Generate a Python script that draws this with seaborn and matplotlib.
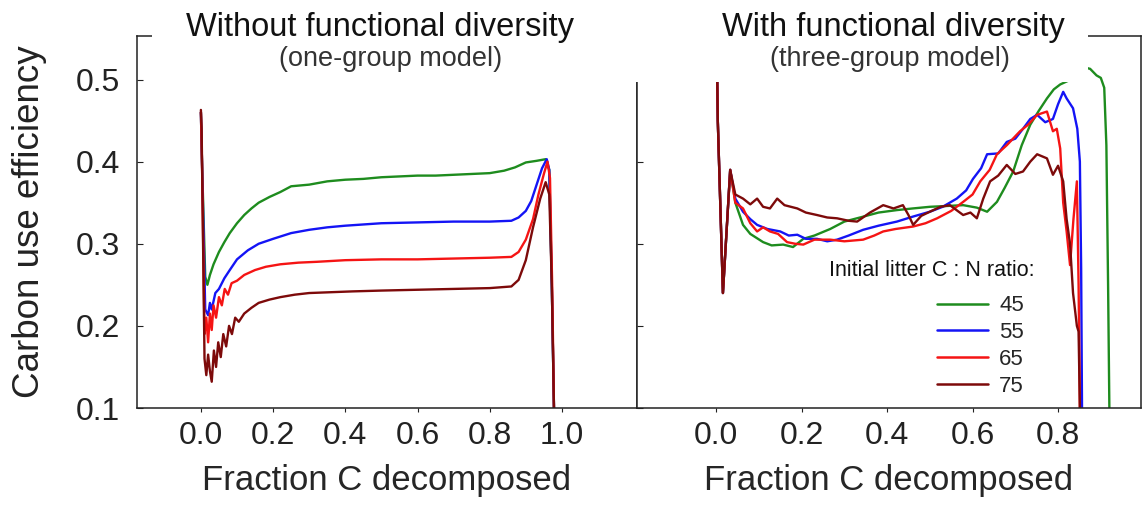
import pandas as pd
import matplotlib
matplotlib.use("Agg")
import matplotlib.pyplot as plt
from matplotlib.patches import Rectangle
import seaborn as sns

# initial litter C:N ratios and line colours
ratios = ["45", "55", "65", "75"]
colors = ["#1e8c1e", "#1414f5", "#f51414", "#7d0a0a"]

# ---- one-group model (left) ----
one_x_45 = [0.0, 0.003, 0.012, 0.018, 0.025, 0.035, 0.05, 0.065, 0.08, 0.1, 0.12, 0.14, 0.16, 0.19,
            0.22, 0.25, 0.3, 0.35, 0.4, 0.45, 0.5, 0.55, 0.6, 0.65, 0.7, 0.75, 0.8, 0.84, 0.87, 0.9,
            0.93, 0.955, 0.965, 0.972, 0.978]
one_y_45 = [0.46, 0.40, 0.26, 0.25, 0.262, 0.275, 0.29, 0.302, 0.313, 0.325, 0.335, 0.343, 0.350, 0.357,
            0.363, 0.370, 0.372, 0.376, 0.378, 0.379, 0.381, 0.382, 0.383, 0.383, 0.384, 0.385, 0.386,
            0.389, 0.393, 0.399, 0.401, 0.403, 0.39, 0.25, 0.1]

one_x_55 = [0.0, 0.003, 0.012, 0.02, 0.025, 0.03, 0.04, 0.05, 0.065, 0.08, 0.1, 0.13, 0.16, 0.2, 0.25,
            0.3, 0.35, 0.4, 0.5, 0.6, 0.7, 0.8, 0.86, 0.88, 0.9, 0.915, 0.93, 0.945, 0.958, 0.965,
            0.972, 0.978]
one_y_55 = [0.46, 0.40, 0.22, 0.213, 0.228, 0.22, 0.24, 0.245, 0.258, 0.268, 0.281, 0.292, 0.300, 0.306,
            0.313, 0.317, 0.320, 0.322, 0.325, 0.326, 0.327, 0.327, 0.328, 0.332, 0.340, 0.352, 0.372,
            0.392, 0.403, 0.39, 0.25, 0.1]

one_x_65 = [0.0, 0.003, 0.01, 0.015, 0.02, 0.025, 0.03, 0.035, 0.042, 0.05, 0.058, 0.066, 0.075, 0.085,
            0.1, 0.12, 0.15, 0.18, 0.22, 0.27, 0.32, 0.4, 0.5, 0.6, 0.7, 0.8, 0.86, 0.88, 0.9, 0.92,
            0.935, 0.95, 0.96, 0.967, 0.973, 0.978]
one_y_65 = [0.46, 0.40, 0.19, 0.21, 0.18, 0.215, 0.195, 0.225, 0.21, 0.235, 0.225, 0.245, 0.238, 0.252,
            0.255, 0.262, 0.268, 0.272, 0.275, 0.277, 0.278, 0.280, 0.281, 0.281, 0.282, 0.283, 0.284,
            0.29, 0.305, 0.33, 0.36, 0.385, 0.40, 0.38, 0.25, 0.1]

one_x_75 = [0.0, 0.002, 0.006, 0.01, 0.015, 0.02, 0.025, 0.03, 0.036, 0.042, 0.048, 0.055, 0.062, 0.07,
            0.078, 0.086, 0.095, 0.105, 0.12, 0.14, 0.16, 0.19, 0.22, 0.26, 0.3, 0.36, 0.42, 0.5, 0.6,
            0.7, 0.8, 0.86, 0.88, 0.9, 0.92, 0.94, 0.955, 0.965, 0.972, 0.978]
one_y_75 = [0.463, 0.44, 0.30, 0.16, 0.14, 0.165, 0.145, 0.132, 0.17, 0.15, 0.18, 0.162, 0.19, 0.175,
            0.20, 0.19, 0.21, 0.205, 0.215, 0.222, 0.228, 0.232, 0.235, 0.238, 0.240, 0.241, 0.242,
            0.243, 0.244, 0.245, 0.246, 0.248, 0.256, 0.28, 0.32, 0.355, 0.375, 0.36, 0.25, 0.1]

# ---- three-group model (right) ----
three_x_45 = [0.0, 0.004, 0.016, 0.033, 0.045, 0.063, 0.08, 0.11, 0.13, 0.157, 0.18, 0.204, 0.23, 0.267,
              0.3, 0.344, 0.38, 0.423, 0.46, 0.5, 0.54, 0.578, 0.61, 0.634, 0.657, 0.675, 0.695, 0.715,
              0.735, 0.755, 0.774, 0.79, 0.805, 0.83, 0.86, 0.875, 0.89, 0.9, 0.908, 0.913, 0.917, 0.92]
three_y_45 = [0.60, 0.45, 0.24, 0.39, 0.35, 0.323, 0.312, 0.302, 0.298, 0.299, 0.296, 0.306, 0.31, 0.318,
              0.327, 0.333, 0.338, 0.341, 0.343, 0.345, 0.346, 0.347, 0.344, 0.339, 0.351, 0.368, 0.388,
              0.42, 0.445, 0.462, 0.477, 0.488, 0.494, 0.50, 0.515, 0.513, 0.505, 0.502, 0.49, 0.42,
              0.25, 0.1]

three_x_55 = [0.0, 0.004, 0.016, 0.033, 0.045, 0.063, 0.08, 0.096, 0.12, 0.15, 0.17, 0.19, 0.21, 0.236,
              0.26, 0.283, 0.31, 0.344, 0.38, 0.423, 0.46, 0.5, 0.53, 0.563, 0.585, 0.601, 0.62, 0.634,
              0.66, 0.68, 0.7, 0.718, 0.735, 0.751, 0.77, 0.788, 0.8, 0.812, 0.82, 0.835, 0.845, 0.851,
              0.854, 0.856]
three_y_55 = [0.60, 0.45, 0.24, 0.39, 0.355, 0.339, 0.33, 0.323, 0.318, 0.315, 0.31, 0.311, 0.306, 0.306,
              0.303, 0.305, 0.31, 0.317, 0.322, 0.327, 0.333, 0.339, 0.345, 0.355, 0.365, 0.379, 0.392,
              0.409, 0.41, 0.424, 0.428, 0.44, 0.452, 0.457, 0.448, 0.452, 0.47, 0.485, 0.477, 0.465,
              0.44, 0.40, 0.27, 0.1]

three_x_65 = [0.0, 0.004, 0.016, 0.033, 0.045, 0.063, 0.08, 0.096, 0.11, 0.126, 0.145, 0.166, 0.185,
              0.204, 0.23, 0.267, 0.3, 0.344, 0.37, 0.391, 0.42, 0.461, 0.49, 0.517, 0.55, 0.578, 0.6,
              0.618, 0.64, 0.657, 0.68, 0.711, 0.73, 0.751, 0.774, 0.788, 0.797, 0.805, 0.812, 0.82,
              0.828, 0.836, 0.844, 0.848, 0.851]
three_y_65 = [0.60, 0.45, 0.24, 0.39, 0.35, 0.343, 0.325, 0.315, 0.32, 0.315, 0.312, 0.302, 0.3, 0.299,
              0.305, 0.305, 0.303, 0.305, 0.31, 0.315, 0.318, 0.321, 0.325, 0.331, 0.34, 0.351, 0.36,
              0.376, 0.39, 0.409, 0.42, 0.437, 0.445, 0.457, 0.461, 0.437, 0.44, 0.416, 0.35, 0.315,
              0.274, 0.33, 0.376, 0.25, 0.1]

three_x_75 = [0.0, 0.004, 0.016, 0.033, 0.045, 0.063, 0.08, 0.096, 0.11, 0.126, 0.143, 0.16, 0.19, 0.21,
              0.236, 0.26, 0.283, 0.31, 0.33, 0.36, 0.391, 0.415, 0.437, 0.45, 0.461, 0.48, 0.5, 0.525,
              0.547, 0.565, 0.578, 0.595, 0.61, 0.625, 0.641, 0.66, 0.68, 0.7, 0.718, 0.735, 0.751,
              0.774, 0.788, 0.8, 0.812, 0.82, 0.828, 0.835, 0.844, 0.848, 0.851]
three_y_75 = [0.60, 0.45, 0.24, 0.39, 0.36, 0.355, 0.348, 0.355, 0.345, 0.343, 0.355, 0.347, 0.343, 0.338,
              0.335, 0.332, 0.331, 0.328, 0.327, 0.338, 0.347, 0.343, 0.347, 0.335, 0.323, 0.334, 0.339,
              0.345, 0.347, 0.34, 0.335, 0.338, 0.331, 0.355, 0.376, 0.383, 0.396, 0.385, 0.388, 0.40,
              0.409, 0.404, 0.384, 0.395, 0.376, 0.33, 0.3, 0.24, 0.2, 0.193, 0.1]

xticks_one = [0.0, 0.2, 0.4, 0.6, 0.8, 1.0]
xticks_three = [0.0, 0.2, 0.4, 0.6, 0.8]
yticks = [0.1, 0.2, 0.3, 0.4, 0.5]


def to_frame(xs, ys):
    parts = []
    for r, x, y in zip(ratios, xs, ys):
        parts.append(pd.DataFrame({"frac": x, "cue": y, "ratio": r}))
    return pd.concat(parts, ignore_index=True)


df_one = to_frame([one_x_45, one_x_55, one_x_65, one_x_75],
                  [one_y_45, one_y_55, one_y_65, one_y_75])
df_three = to_frame([three_x_45, three_x_55, three_x_65, three_x_75],
                    [three_y_45, three_y_55, three_y_65, three_y_75])

sns.set_style("ticks")
plt.rcParams["font.family"] = ["Liberation Sans", "DejaVu Sans"]
pal = dict(zip(ratios, colors))

fig = plt.figure(figsize=(11.44, 5.08), dpi=100)
ax1 = fig.add_axes([137 / 1144, 1 - 408 / 508, 500 / 1144, 372 / 508])
ax2 = fig.add_axes([637 / 1144, 1 - 408 / 508, 504 / 1144, 372 / 508])

sns.lineplot(data=df_one, x="frac", y="cue", hue="ratio", palette=pal, estimator=None,
             sort=False, lw=1.7, legend=False, ax=ax1)
sns.lineplot(data=df_three, x="frac", y="cue", hue="ratio", palette=pal, estimator=None,
             sort=False, lw=1.7, ax=ax2)

ax1.set_xlim(-0.177, 1.208)
ax2.set_xlim(-0.185, 0.994)
for ax in (ax1, ax2):
    ax.set_ylim(0.1, 0.553)
    ax.set_yticks(yticks)
    for s in ax.spines.values():
        s.set_linewidth(1.1)
        s.set_color("#222222")
    ax.tick_params(axis="x", direction="out", length=3, width=0.8, pad=6, labelsize=23,
                   colors="#222222")
    ax.tick_params(axis="y", direction="in", length=4, width=0.8, pad=12, labelsize=23,
                   colors="#222222")
    ax.set_xlabel("Fraction C decomposed", fontsize=25, labelpad=10)
    ax.set_ylabel("")

ax1.set_xticks(xticks_one)
ax1.set_xticklabels([f"{v:.1f}" for v in xticks_one])
ax2.set_xticks(xticks_three)
ax2.set_xticklabels([f"{v:.1f}" for v in xticks_three])
ax2.tick_params(axis="y", labelleft=False)
ax1.set_yticklabels([f"{v:.1f}" for v in yticks])

fig.text(30 / 1144, 1 - 222 / 508, "Carbon use efficiency", rotation=90, fontsize=26.5,
         ha="center", va="center", color="#222222")

# legend
leg = ax2.legend(loc="upper left", bbox_to_anchor=(0.595, 0.303), frameon=False, fontsize=16,
                 handlelength=2.3, handletextpad=0.5, labelspacing=0.26, borderpad=0,
                 borderaxespad=0)
for line in leg.get_lines():
    line.set_linewidth(1.8)
ax2.text(1035 / 1144, 1 - 270 / 508, "Initial litter C : N ratio:", transform=fig.transFigure,
         fontsize=15.5, ha="right", va="center", color="#111111")

# white box behind the panel titles
fig.patches.append(Rectangle((152 / 1144, 1 - 82 / 508), (1088 - 152) / 1144, 82 / 508,
                             transform=fig.transFigure, facecolor="white", edgecolor="none",
                             zorder=5))
fig.text(380 / 1144, 1 - 36 / 508, "Without functional diversity", fontsize=23.5, ha="center",
         va="baseline", color="#111111", zorder=6)
fig.text(391 / 1144, 1 - 66 / 508, "(one-group model)", fontsize=19.5, ha="center",
         va="baseline", color="#333333", zorder=6)
fig.text(893 / 1144, 1 - 36 / 508, "With functional diversity", fontsize=23.5, ha="center",
         va="baseline", color="#111111", zorder=6)
fig.text(890 / 1144, 1 - 66 / 508, "(three-group model)", fontsize=19.5, ha="center",
         va="baseline", color="#333333", zorder=6)

fig.savefig("out.png", dpi=100)
